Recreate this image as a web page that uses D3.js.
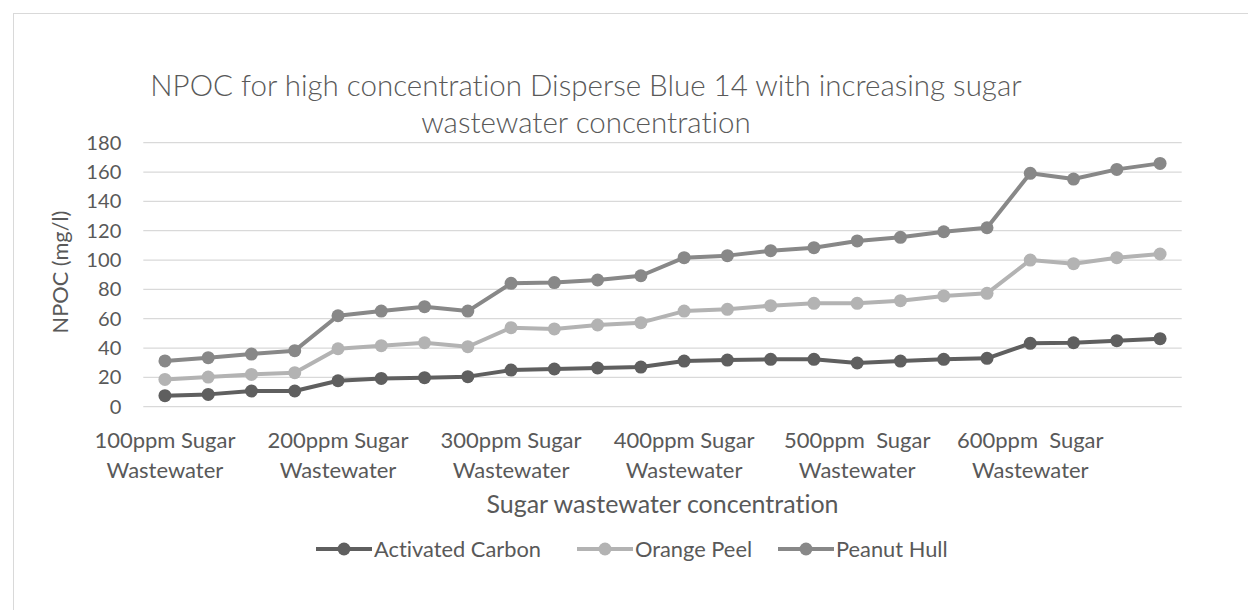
<!DOCTYPE html>
<html>
<head>
<meta charset="utf-8">
<script src="https://cdn.jsdelivr.net/npm/d3@7"></script>
<style>
  html, body { margin: 0; padding: 0; background: #fff; }
  svg { display: block; }
  text { font-family: Lato, "Open Sans", sans-serif; fill: #595959; white-space: pre;
         font-variant-ligatures: none; font-feature-settings: "liga" 0, "clig" 0; }
</style>
</head>
<body>
<svg id="chart" width="1248" height="610"></svg>
<script>
// ---- data ----
const titleLines = ["NPOC for high concentration Disperse Blue 14 with increasing sugar", "wastewater concentration"];
const yTitle = "NPOC (mg/l)";
const xTitle = "Sugar wastewater concentration";
const categories = [
  "100ppm Sugar|Wastewater", "", "", "",
  "200ppm Sugar|Wastewater", "", "", "",
  "300ppm Sugar|Wastewater", "", "", "",
  "400ppm Sugar|Wastewater", "", "", "",
  "500ppm  Sugar|Wastewater", "", "", "",
  "600ppm  Sugar|Wastewater", "", "", ""
];
const seriesNames = ["Activated Carbon", "Orange Peel", "Peanut Hull"];
const activatedCarbon = [7.5, 8.4, 10.7, 10.7, 17.7, 19.3, 19.8, 20.5, 25.0, 25.7, 26.4, 27.0, 31.1, 31.8, 32.3, 32.3, 29.8, 31.1, 32.3, 33.0, 43.2, 43.6, 45.0, 46.4];
const orangePeel     = [18.6, 20.2, 22.0, 23.2, 39.5, 41.6, 43.6, 40.9, 53.9, 53.0, 55.7, 57.3, 65.2, 66.4, 68.9, 70.5, 70.5, 72.3, 75.5, 77.3, 100.0, 97.5, 101.6, 104.1];
const peanutHull     = [31.2, 33.4, 35.9, 38.2, 62.0, 65.2, 68.2, 65.2, 84.1, 84.6, 86.4, 89.3, 101.6, 103.0, 106.4, 108.4, 113.0, 115.5, 119.3, 122.0, 159.1, 155.2, 161.8, 165.9];
const yTicks = [0, 20, 40, 60, 80, 100, 120, 140, 160, 180];
const seriesColors = ["#5f5f5f", "#b3b3b3", "#888888"];

// ---- layout ----
const svg = d3.select("#chart");
const plot = { left: 143.3, right: 1181.7, top: 142.7, bottom: 406.7 };

svg.append("rect").attr("x", 13.5).attr("y", 13.5).attr("width", 1300).attr("height", 700)
  .attr("fill", "#fff").attr("stroke", "#d9d9d9").attr("stroke-width", 1);

const x = d3.scaleBand().domain(d3.range(categories.length)).range([plot.left, plot.right]);
const y = d3.scaleLinear().domain([0, 180]).range([plot.bottom, plot.top]);
const cx = i => x(i) + x.bandwidth() / 2;

// gridlines
svg.append("g").selectAll("line").data(yTicks).join("line")
  .attr("x1", plot.left).attr("x2", plot.right)
  .attr("y1", d => y(d)).attr("y2", d => y(d))
  .attr("stroke", "#d9d9d9").attr("stroke-width", 1.3);

// y axis
const yAxis = svg.append("g").attr("transform", `translate(${plot.left},0)`)
  .call(d3.axisLeft(y).tickValues(yTicks).tickSize(0).tickPadding(22));
yAxis.select(".domain").remove();
yAxis.selectAll("text").attr("font-size", 20).attr("fill", "#595959")
  .style("font-family", "Lato, sans-serif");

// x axis
const xAxis = svg.append("g").attr("transform", `translate(0,${plot.bottom})`)
  .call(d3.axisBottom(x).tickValues(d3.range(categories.length).filter(i => categories[i] !== "")).tickSize(0).tickFormat(""));
xAxis.select(".domain").remove();
xAxis.selectAll(".tick").each(function(i) {
  const parts = categories[i].split("|");
  const t = d3.select(this).append("text").attr("text-anchor", "middle").attr("font-size", 20).attr("class", "xlab");
  parts.forEach((p, k) => t.append("tspan").attr("x", 0).attr("y", k === 0 ? 41 : 71).text(p));
});

// series
const allSeries = [activatedCarbon, orangePeel, peanutHull];
const line = d3.line().x((d, i) => cx(i)).y(d => y(d));
allSeries.forEach((vals, s) => {
  const g = svg.append("g");
  g.append("path").datum(vals).attr("d", line).attr("fill", "none")
    .attr("stroke", seriesColors[s]).attr("stroke-width", 4).attr("stroke-linejoin", "round");
  g.selectAll("circle").data(vals).join("circle")
    .attr("cx", (d, i) => cx(i)).attr("cy", d => y(d)).attr("r", 6.5).attr("fill", seriesColors[s]);
});

// titles
const title = svg.append("g");
titleLines.forEach((t, k) => {
  title.append("text").attr("x", 586).attr("y", k === 0 ? 96 : 133).attr("text-anchor", "middle")
    .attr("font-size", 24).attr("font-weight", 300).text(t);
});
const yt = svg.append("text").attr("transform", "translate(60,272) rotate(-90)")
  .attr("text-anchor", "middle").attr("dy", "0.35em").attr("font-size", 20).text(yTitle);
const xt = svg.append("text").attr("x", (plot.left + plot.right) / 2).attr("y", 513)
  .attr("text-anchor", "middle").attr("font-size", 20).text(xTitle);

// legend
const legendLineX = [316, 577, 778];
const legend = svg.append("g");
seriesNames.forEach((n, s) => {
  const g = legend.append("g").attr("transform", `translate(${legendLineX[s]},549)`);
  g.append("line").attr("x1", 0).attr("x2", 56).attr("y1", 0).attr("y2", 0)
    .attr("stroke", seriesColors[s]).attr("stroke-width", 4);
  g.append("circle").attr("cx", 28).attr("cy", 0).attr("r", 6.5).attr("fill", seriesColors[s]);
  g.append("text").attr("x", 58).attr("y", 0).attr("dy", "0.35em").attr("font-size", 20).attr("class", "legtext").text(n);
});

// ---- fit font sizes to the reference text widths ----
function fitSize(sel, target, base) {
  const w = sel.node().getComputedTextLength();
  return base * target / w;
}
const tSel = title.select("text");
const tSize = fitSize(tSel, 872, 24);
title.selectAll("text").attr("font-size", tSize);

const ySize = fitSize(yAxis.select(".tick:last-of-type text"), 35, 20);
yAxis.selectAll("text").attr("font-size", ySize);

const xSize = fitSize(xAxis.select(".xlab tspan"), 141, 20);
xAxis.selectAll(".xlab").attr("font-size", xSize);

const lSize = fitSize(legend.select(".legtext"), 167, 20);
legend.selectAll(".legtext").attr("font-size", lSize);

const xtSize = fitSize(xt, 352, 20);
xt.attr("font-size", xtSize);
yt.attr("font-size", fitSize(yt, 123, 20));
</script>
</body>
</html>
